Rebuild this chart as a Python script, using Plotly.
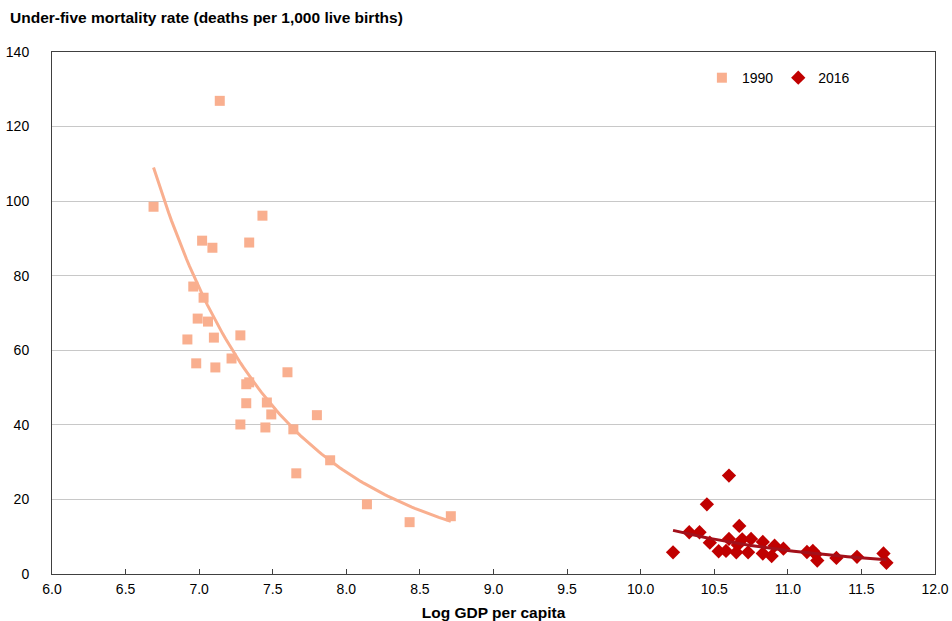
import numpy as np
import plotly.graph_objects as go

# 1990 observations (log GDP per capita, under-five mortality)
gdp_1990 = [6.69, 7.14, 7.43, 7.02, 7.34, 7.09, 6.96, 7.03, 6.99, 7.06, 6.92, 7.10, 7.28,
            6.98, 7.11, 7.22, 7.60, 7.32, 7.34, 7.32, 7.46, 7.49, 7.80, 7.28, 7.45, 7.64,
            7.89, 7.66, 8.14, 8.43, 8.71]
u5mr_1990 = [98.5, 126.9, 96.1, 89.4, 88.9, 87.5, 77.1, 74.1, 68.5, 67.7, 62.9, 63.4, 64.0,
             56.5, 55.4, 57.8, 54.1, 50.9, 51.4, 45.8, 46.0, 42.8, 42.6, 40.1, 39.3, 38.8,
             30.5, 27.0, 18.7, 13.9, 15.5]

# 2016 observations
gdp_2016 = [10.22, 10.33, 10.40, 10.47, 10.45, 10.53, 10.58, 10.60, 10.60, 10.65, 10.67,
            10.66, 10.69, 10.73, 10.75, 10.83, 10.83, 10.89, 10.91, 10.97, 11.13, 11.17,
            11.20, 11.19, 11.33, 11.47, 11.65, 11.67]
u5mr_2016 = [5.8, 11.2, 11.2, 8.4, 18.7, 6.1, 6.2, 9.4, 26.4, 5.8, 12.9, 7.8, 9.3, 5.8,
             9.4, 8.6, 5.5, 4.8, 7.6, 6.8, 5.9, 6.2, 3.6, 5.3, 4.3, 4.6, 5.5, 3.0]

x_ticks = [6.0, 6.5, 7.0, 7.5, 8.0, 8.5, 9.0, 9.5, 10.0, 10.5, 11.0, 11.5, 12.0]
y_ticks = [0, 20, 40, 60, 80, 100, 120, 140]

TITLE = "Under-five mortality rate (deaths per 1,000 live births)"
X_TITLE = "Log GDP per capita"

C1990 = "#F9AF8F"
C2016 = "#C00000"
CTREND16 = "#A3101A"


def power_trend(xs, ys, n=100):
    """Power trendline (least squares in log-log space), like a spreadsheet trendline."""
    xs = np.asarray(xs, float)
    ys = np.asarray(ys, float)
    b, lna = np.polyfit(np.log(xs), np.log(ys), 1)
    xx = np.linspace(xs.min(), xs.max(), n)
    return xx, np.exp(lna) * xx ** b


tx90, ty90 = power_trend(gdp_1990, u5mr_1990)
tx16, ty16 = power_trend(gdp_2016, u5mr_2016)

FONT = "Liberation Sans, Arial, sans-serif"

fig = go.Figure()
fig.add_trace(go.Scatter(x=tx90, y=ty90, mode="lines", line=dict(color=C1990, width=3),
                         showlegend=False, hoverinfo="skip"))
fig.add_trace(go.Scatter(x=gdp_1990, y=u5mr_1990, mode="markers", name="1990",
                         marker=dict(symbol="square", size=10, color=C1990)))
fig.add_trace(go.Scatter(x=gdp_2016, y=u5mr_2016, mode="markers", name="2016",
                         marker=dict(symbol="diamond", size=11, color=C2016)))
fig.add_trace(go.Scatter(x=tx16, y=ty16, mode="lines", line=dict(color=CTREND16, width=3),
                         showlegend=False, hoverinfo="skip"))

fig.update_layout(
    width=952, height=621,
    margin=dict(l=52, r=17, t=52, b=47, autoexpand=False),
    paper_bgcolor="white", plot_bgcolor="white",
    font=dict(family=FONT, size=14, color="black"),
    showlegend=True,
    legend=dict(orientation="h", x=0.736, y=0.95, xanchor="left", yanchor="middle",
                bgcolor="rgba(0,0,0,0)", font=dict(size=14), itemwidth=30,
                tracegroupgap=0),
    annotations=[
        dict(text="<b>" + TITLE + "</b>", xref="paper", yref="paper", x=-0.0498, y=1.0,
             xanchor="left", yanchor="middle", yshift=35, showarrow=False,
             font=dict(size=15.5, family=FONT)),
    ],
)
fig.update_xaxes(
    range=[6, 12], tickvals=x_ticks, ticktext=[f"{v:.1f}" for v in x_ticks],
    showgrid=False, zeroline=False,
    showline=True, linecolor="#404040", linewidth=1, mirror=True,
    ticks="inside", ticklen=5, tickcolor="#404040", ticklabelstandoff=2,
    title=dict(text="<b>" + X_TITLE + "</b>", standoff=12, font=dict(size=15.5)),
    tickfont=dict(size=14),
)
fig.update_yaxes(
    range=[0, 140], tickvals=y_ticks, ticktext=[str(v) for v in y_ticks],
    showgrid=True, gridcolor="#C8C8C8", gridwidth=1, zeroline=False,
    showline=True, linecolor="#404040", linewidth=1, mirror=True,
    ticks="", ticklabelstandoff=19, tickfont=dict(size=14),
)

fig.write_html("out.html", config={"displayModeBar": False},
               post_script="document.body.style.margin='0';")
